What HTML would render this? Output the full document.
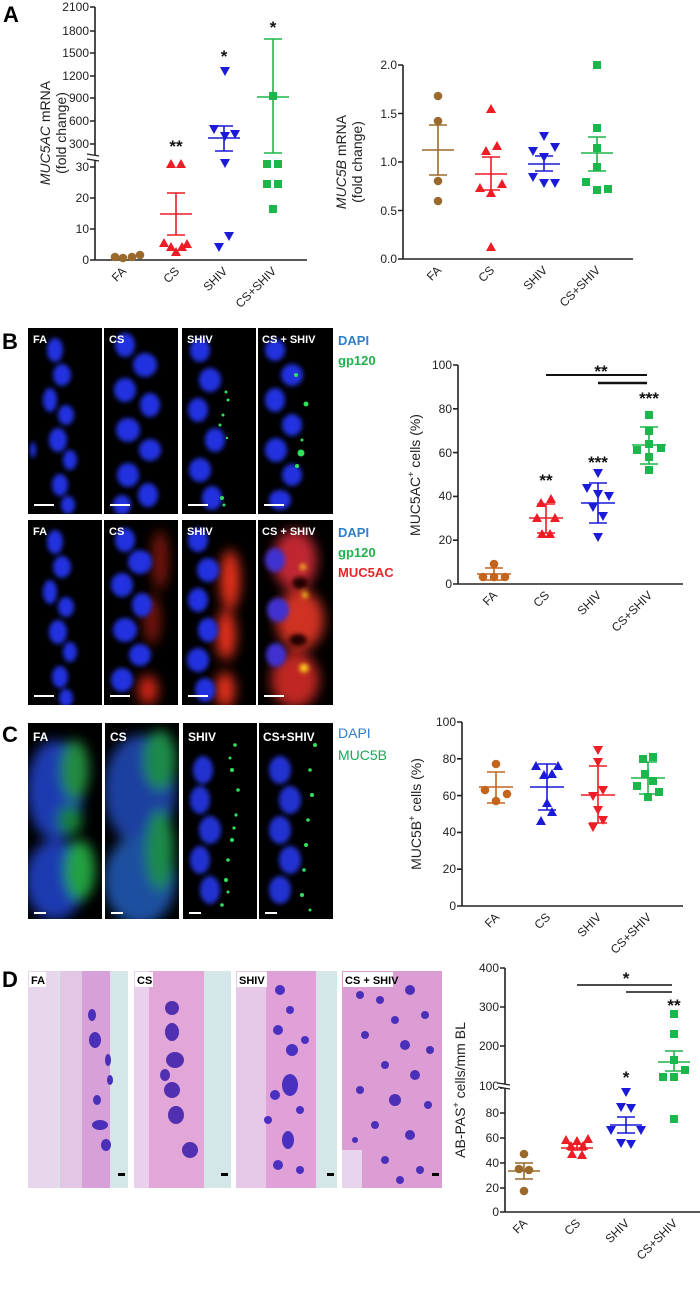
<!DOCTYPE html>
<html><head><meta charset="utf-8">
<style>
html,body{margin:0;padding:0;background:#fff}
svg{display:block}
text{font-family:"Liberation Sans",Arial,sans-serif}
</style></head>
<body>
<svg width="700" height="1289" viewBox="0 0 700 1289" xmlns="http://www.w3.org/2000/svg" xmlns:xlink="http://www.w3.org/1999/xlink">
<defs>
<filter id="b2" x="-50%" y="-50%" width="200%" height="200%"><feGaussianBlur stdDeviation="2.5"/></filter>
<filter id="b5" x="-50%" y="-50%" width="200%" height="200%"><feGaussianBlur stdDeviation="6"/></filter>
<symbol id="o" overflow="visible"><circle cx="0" cy="0" r="4.3"/></symbol>
<symbol id="u" overflow="visible"><polygon points="0,-5 -5,4 5,4"/></symbol>
<symbol id="d" overflow="visible"><polygon points="0,5 -5,-4 5,-4"/></symbol>
<symbol id="q" overflow="visible"><rect x="-4" y="-4" width="8" height="8"/></symbol>
<clipPath id="k1"><rect x="28" y="328" width="74" height="186"/></clipPath>
<clipPath id="k2"><rect x="104" y="328" width="74" height="186"/></clipPath>
<clipPath id="k3"><rect x="182" y="328" width="74" height="186"/></clipPath>
<clipPath id="k4"><rect x="258" y="328" width="75" height="186"/></clipPath>
<clipPath id="k5"><rect x="28" y="520" width="74" height="185"/></clipPath>
<clipPath id="k6"><rect x="104" y="520" width="74" height="185"/></clipPath>
<clipPath id="k7"><rect x="182" y="520" width="74" height="185"/></clipPath>
<clipPath id="k8"><rect x="258" y="520" width="75" height="185"/></clipPath>
<clipPath id="k9"><rect x="28" y="723" width="74" height="196"/></clipPath>
<clipPath id="k10"><rect x="105" y="723" width="74" height="196"/></clipPath>
<clipPath id="k11"><rect x="183" y="723" width="74" height="196"/></clipPath>
<clipPath id="k12"><rect x="259" y="723" width="74" height="196"/></clipPath>
<clipPath id="k13"><rect x="28" y="971" width="100" height="217"/></clipPath>
<clipPath id="k14"><rect x="134" y="971" width="97" height="217"/></clipPath>
<clipPath id="k15"><rect x="236" y="971" width="101" height="217"/></clipPath>
<clipPath id="k16"><rect x="342" y="971" width="100" height="217"/></clipPath>
</defs>

<!-- ===== B images row 1 ===== -->
<g>
<rect x="28" y="328" width="74" height="186" fill="#000"/>
<rect x="104" y="328" width="74" height="186" fill="#000"/>
<rect x="182" y="328" width="74" height="186" fill="#000"/>
<rect x="258" y="328" width="75" height="186" fill="#000"/>
<g clip-path="url(#k1)" filter="url(#b2)" fill="#2030e0">
<ellipse cx="55" cy="350" rx="8" ry="12"/><ellipse cx="62" cy="375" rx="9" ry="11"/><ellipse cx="50" cy="400" rx="7" ry="12"/><ellipse cx="66" cy="415" rx="8" ry="10"/><ellipse cx="58" cy="440" rx="9" ry="12"/><ellipse cx="70" cy="460" rx="7" ry="10"/><ellipse cx="60" cy="485" rx="8" ry="11"/><ellipse cx="68" cy="505" rx="7" ry="9"/><ellipse cx="33" cy="450" rx="3" ry="8"/>
</g>
<g clip-path="url(#k2)" filter="url(#b2)" fill="#2030e0">
<ellipse cx="125" cy="345" rx="10" ry="12"/><ellipse cx="145" cy="365" rx="12" ry="12"/><ellipse cx="125" cy="390" rx="11" ry="12"/><ellipse cx="150" cy="405" rx="10" ry="12"/><ellipse cx="128" cy="430" rx="12" ry="12"/><ellipse cx="150" cy="450" rx="11" ry="11"/><ellipse cx="128" cy="475" rx="11" ry="12"/><ellipse cx="148" cy="495" rx="10" ry="12"/><ellipse cx="122" cy="505" rx="9" ry="10"/>
</g>
<g clip-path="url(#k3)" filter="url(#b2)" fill="#2030e0">
<ellipse cx="200" cy="350" rx="10" ry="12"/><ellipse cx="210" cy="380" rx="11" ry="12"/><ellipse cx="198" cy="410" rx="10" ry="12"/><ellipse cx="215" cy="440" rx="10" ry="12"/><ellipse cx="200" cy="470" rx="11" ry="12"/><ellipse cx="212" cy="498" rx="10" ry="12"/>
</g>
<g clip-path="url(#k3)" fill="#2ee05a"><circle cx="226" cy="392" r="1.5"/><circle cx="228" cy="400" r="1.5"/><circle cx="223" cy="415" r="1.5"/><circle cx="220" cy="425" r="1.5"/><circle cx="227" cy="438" r="1.2"/><circle cx="222" cy="498" r="2"/><circle cx="224" cy="505" r="1.5"/></g>
<g clip-path="url(#k4)" filter="url(#b2)" fill="#2030e0">
<ellipse cx="275" cy="350" rx="10" ry="11"/><ellipse cx="292" cy="375" rx="11" ry="11"/><ellipse cx="275" cy="400" rx="10" ry="12"/><ellipse cx="292" cy="425" rx="10" ry="11"/><ellipse cx="276" cy="450" rx="11" ry="12"/><ellipse cx="292" cy="475" rx="10" ry="11"/><ellipse cx="280" cy="500" rx="11" ry="10"/>
</g>
<g clip-path="url(#k4)" fill="#2ee05a"><circle cx="296" cy="375" r="2"/><circle cx="306" cy="404" r="2.5"/><circle cx="302" cy="440" r="1.5"/><circle cx="301" cy="453" r="3.5"/><circle cx="297" cy="466" r="2"/></g>
<g fill="#fff"><rect x="34" y="504" width="20" height="2"/><rect x="110" y="504" width="20" height="2"/><rect x="188" y="504" width="20" height="2"/><rect x="264" y="504" width="20" height="2"/></g>
</g>

<!-- ===== B images row 2 ===== -->
<g>
<rect x="28" y="520" width="74" height="185" fill="#000"/>
<rect x="104" y="520" width="74" height="185" fill="#000"/>
<rect x="182" y="520" width="74" height="185" fill="#000"/>
<rect x="258" y="520" width="75" height="185" fill="#000"/>
<g clip-path="url(#k5)" filter="url(#b2)" fill="#2030e0">
<ellipse cx="55" cy="542" rx="8" ry="12"/><ellipse cx="62" cy="567" rx="9" ry="11"/><ellipse cx="50" cy="592" rx="7" ry="12"/><ellipse cx="66" cy="607" rx="8" ry="10"/><ellipse cx="58" cy="632" rx="9" ry="12"/><ellipse cx="70" cy="652" rx="7" ry="10"/><ellipse cx="60" cy="677" rx="8" ry="11"/><ellipse cx="66" cy="698" rx="7" ry="9"/>
</g>
<g clip-path="url(#k6)" filter="url(#b5)" fill="#d02818"><ellipse cx="160" cy="560" rx="8" ry="30" opacity="0.6"/><ellipse cx="152" cy="620" rx="8" ry="25" opacity="0.6"/><ellipse cx="148" cy="690" rx="10" ry="15"/></g>
<g clip-path="url(#k6)" filter="url(#b2)" fill="#2030e0">
<ellipse cx="125" cy="540" rx="10" ry="12"/><ellipse cx="140" cy="562" rx="12" ry="12"/><ellipse cx="122" cy="585" rx="11" ry="12"/><ellipse cx="142" cy="605" rx="10" ry="12"/><ellipse cx="125" cy="630" rx="12" ry="12"/><ellipse cx="140" cy="655" rx="11" ry="11"/><ellipse cx="122" cy="680" rx="11" ry="12"/>
</g>
<g clip-path="url(#k7)" filter="url(#b5)" fill="#e8301e"><ellipse cx="230" cy="580" rx="10" ry="30"/><ellipse cx="226" cy="635" rx="10" ry="25"/><ellipse cx="225" cy="690" rx="10" ry="18"/></g>
<g clip-path="url(#k7)" filter="url(#b2)" fill="#2030e0">
<ellipse cx="198" cy="540" rx="10" ry="12"/><ellipse cx="208" cy="570" rx="11" ry="12"/><ellipse cx="198" cy="600" rx="10" ry="12"/><ellipse cx="208" cy="630" rx="10" ry="12"/><ellipse cx="198" cy="660" rx="11" ry="12"/><ellipse cx="205" cy="690" rx="10" ry="12"/>
</g>
<g clip-path="url(#k8)" filter="url(#b5)">
<ellipse cx="295" cy="560" rx="22" ry="30" fill="#c02830"/><ellipse cx="300" cy="620" rx="24" ry="30" fill="#d03020"/><ellipse cx="295" cy="680" rx="24" ry="28" fill="#c02820"/>
</g>
<g clip-path="url(#k8)" filter="url(#b2)">
<ellipse cx="275" cy="560" rx="10" ry="12" fill="#4030d0"/><ellipse cx="278" cy="610" rx="11" ry="12" fill="#4030d0"/><ellipse cx="276" cy="655" rx="10" ry="12" fill="#4030d0"/><ellipse cx="300" cy="583" rx="8" ry="6" fill="#200"/><ellipse cx="298" cy="640" rx="9" ry="6" fill="#200"/>
<circle cx="303" cy="567" r="3" fill="#ffd21a"/><circle cx="305" cy="595" r="3" fill="#ffd21a"/><circle cx="304" cy="668" r="4.5" fill="#ffd21a"/>
</g>
<g fill="#fff"><rect x="34" y="695" width="20" height="2"/><rect x="110" y="695" width="20" height="2"/><rect x="188" y="695" width="20" height="2"/><rect x="264" y="695" width="20" height="2"/></g>
</g>

<!-- ===== C images ===== -->
<g>
<rect x="28" y="723" width="74" height="196" fill="#000"/>
<rect x="105" y="723" width="74" height="196" fill="#000"/>
<rect x="183" y="723" width="74" height="196" fill="#000"/>
<rect x="259" y="723" width="74" height="196" fill="#000"/>
<g clip-path="url(#k9)" filter="url(#b5)">
<ellipse cx="55" cy="790" rx="28" ry="50" fill="#1c3ab0"/><ellipse cx="55" cy="880" rx="30" ry="40" fill="#1c3ab0"/><ellipse cx="75" cy="770" rx="14" ry="30" fill="#208a40"/><ellipse cx="80" cy="870" rx="15" ry="30" fill="#20a040"/><ellipse cx="70" cy="820" rx="12" ry="15" fill="#188038"/>
</g>
<g clip-path="url(#k10)" filter="url(#b5)">
<ellipse cx="140" cy="790" rx="36" ry="55" fill="#1c40a0"/><ellipse cx="140" cy="880" rx="36" ry="45" fill="#1c50a0"/><ellipse cx="160" cy="760" rx="16" ry="30" fill="#1f8a48"/><ellipse cx="160" cy="850" rx="14" ry="40" fill="#1f8a48"/>
</g>
<g clip-path="url(#k11)" filter="url(#b2)" fill="#2030d0">
<ellipse cx="203" cy="770" rx="10" ry="14"/><ellipse cx="200" cy="800" rx="10" ry="14"/><ellipse cx="210" cy="830" rx="11" ry="14"/><ellipse cx="200" cy="860" rx="10" ry="14"/><ellipse cx="210" cy="890" rx="10" ry="14"/>
</g>
<g clip-path="url(#k11)" fill="#30e060"><circle cx="235" cy="745" r="1.8"/><circle cx="232" cy="770" r="2"/><circle cx="238" cy="790" r="1.8"/><circle cx="236" cy="815" r="1.6"/><circle cx="232" cy="840" r="2"/><circle cx="228" cy="860" r="1.8"/><circle cx="226" cy="880" r="2"/><circle cx="222" cy="905" r="1.8"/><circle cx="230" cy="758" r="1.5"/><circle cx="234" cy="828" r="1.6"/><circle cx="228" cy="892" r="1.5"/></g>
<g clip-path="url(#k12)" filter="url(#b2)" fill="#2030d0">
<ellipse cx="280" cy="770" rx="11" ry="14"/><ellipse cx="290" cy="800" rx="11" ry="14"/><ellipse cx="280" cy="830" rx="11" ry="14"/><ellipse cx="290" cy="860" rx="11" ry="14"/><ellipse cx="280" cy="890" rx="11" ry="14"/>
</g>
<g clip-path="url(#k12)" fill="#30e060"><circle cx="315" cy="745" r="2"/><circle cx="310" cy="770" r="1.8"/><circle cx="312" cy="795" r="2"/><circle cx="308" cy="820" r="1.8"/><circle cx="306" cy="845" r="2"/><circle cx="304" cy="870" r="1.8"/><circle cx="302" cy="895" r="2"/><circle cx="310" cy="910" r="1.5"/></g>
<g fill="#fff"><rect x="34" y="912" width="12" height="2"/><rect x="111" y="912" width="12" height="2"/><rect x="189" y="912" width="12" height="2"/><rect x="265" y="912" width="12" height="2"/></g>
</g>

<!-- ===== D images ===== -->
<g>
<rect x="28" y="971" width="100" height="217" fill="#d4e6e8"/>
<rect x="134" y="971" width="97" height="217" fill="#d4e6e8"/>
<rect x="236" y="971" width="101" height="217" fill="#d4e6e8"/>
<rect x="342" y="971" width="100" height="217" fill="#d4e6e8"/>
<g clip-path="url(#k13)">
<rect x="28" y="971" width="30" height="217" fill="#e8d6ec"/><rect x="80" y="971" width="30" height="217" fill="#d8a0d8"/><rect x="60" y="971" width="22" height="217" fill="#e3c6e6"/>
<g fill="#4a2fb8"><ellipse cx="92" cy="1015" rx="4" ry="6"/><ellipse cx="95" cy="1040" rx="6" ry="8"/><ellipse cx="108" cy="1060" rx="3" ry="6"/><ellipse cx="97" cy="1100" rx="4" ry="5"/><ellipse cx="100" cy="1125" rx="8" ry="5"/><ellipse cx="106" cy="1145" rx="5" ry="6"/><ellipse cx="110" cy="1080" rx="3" ry="5"/></g>
</g>
<g clip-path="url(#k14)">
<rect x="134" y="971" width="70" height="217" fill="#e2a6d8"/><rect x="134" y="971" width="15" height="217" fill="#ead0ec"/>
<g fill="#5030b0"><ellipse cx="172" cy="1008" rx="7" ry="7"/><ellipse cx="172" cy="1032" rx="7" ry="9"/><ellipse cx="175" cy="1060" rx="9" ry="8"/><ellipse cx="172" cy="1090" rx="8" ry="8"/><ellipse cx="176" cy="1115" rx="8" ry="9"/><ellipse cx="190" cy="1150" rx="8" ry="8"/><ellipse cx="165" cy="1075" rx="5" ry="6"/></g>
</g>
<g clip-path="url(#k15)">
<rect x="236" y="971" width="80" height="217" fill="#e0a0d8"/><rect x="236" y="971" width="30" height="217" fill="#e8c8e8"/>
<g fill="#4a30c0"><circle cx="280" cy="990" r="5"/><circle cx="290" cy="1010" r="4"/><circle cx="278" cy="1030" r="5"/><circle cx="292" cy="1050" r="6"/><ellipse cx="290" cy="1085" rx="8" ry="11"/><circle cx="275" cy="1095" r="5"/><circle cx="300" cy="1110" r="4"/><ellipse cx="288" cy="1140" rx="6" ry="9"/><circle cx="278" cy="1165" r="5"/><circle cx="300" cy="1170" r="4"/><circle cx="305" cy="1040" r="4"/><circle cx="268" cy="1120" r="4"/></g>
</g>
<g clip-path="url(#k16)">
<rect x="342" y="971" width="100" height="217" fill="#dc9cd4"/><rect x="342" y="1150" width="20" height="38" fill="#e8d4ec"/>
<g fill="#4a30b8"><circle cx="360" cy="995" r="4"/><circle cx="380" cy="1000" r="4"/><circle cx="410" cy="990" r="5"/><circle cx="395" cy="1020" r="4"/><circle cx="425" cy="1015" r="4"/><circle cx="365" cy="1035" r="4"/><circle cx="405" cy="1045" r="5"/><circle cx="430" cy="1050" r="4"/><circle cx="385" cy="1065" r="4"/><circle cx="415" cy="1075" r="5"/><circle cx="360" cy="1090" r="4"/><circle cx="395" cy="1100" r="6"/><circle cx="428" cy="1105" r="4"/><circle cx="375" cy="1125" r="4"/><circle cx="410" cy="1135" r="5"/><circle cx="385" cy="1160" r="4"/><circle cx="420" cy="1170" r="4"/><circle cx="400" cy="1180" r="4"/><circle cx="355" cy="1140" r="3"/></g>
</g>
<g fill="#000"><rect x="118" y="1173" width="7" height="3"/><rect x="221" y="1173" width="7" height="3"/><rect x="327" y="1173" width="7" height="3"/><rect x="432" y="1173" width="7" height="3"/></g>
</g>

<g font-weight="bold" font-size="22" fill="#000">
<text x="3" y="22">A</text><text x="2" y="349">B</text><text x="2" y="742">C</text><text x="2" y="987">D</text>
</g>
<g font-size="13" font-weight="bold">
<text x="338" y="345" fill="#2f7fd0">DAPI</text><text x="338" y="365" fill="#22b04c">gp120</text>
<text x="338" y="537" fill="#2f7fd0">DAPI</text><text x="338" y="557" fill="#22b04c">gp120</text><text x="338" y="577" fill="#e8242a">MUC5AC</text>
<text x="338" y="738" fill="#2f7fd0" font-size="14" font-weight="normal">DAPI</text><text x="338" y="760" fill="#1ca85a" font-size="14" font-weight="normal">MUC5B</text>
</g>
<g font-size="11" font-weight="bold" fill="#fff">
<text x="33" y="343">FA</text><text x="109" y="343">CS</text><text x="187" y="343">SHIV</text><text x="262" y="343">CS + SHIV</text>
<text x="33" y="535">FA</text><text x="109" y="535">CS</text><text x="187" y="535">SHIV</text><text x="262" y="535">CS + SHIV</text>
<text x="33" y="741" font-size="12">FA</text><text x="110" y="741" font-size="12">CS</text><text x="188" y="741" font-size="12">SHIV</text><text x="263" y="741" font-size="12">CS+SHIV</text>
</g>
<g font-size="11" font-weight="bold" fill="#000">
<rect x="29" y="972" width="17" height="15" fill="#fff"/><text x="31" y="984">FA</text>
<rect x="135" y="972" width="18" height="15" fill="#fff"/><text x="137" y="984">CS</text>
<rect x="237" y="972" width="30" height="15" fill="#fff"/><text x="239" y="984">SHIV</text>
<rect x="343" y="972" width="50" height="15" fill="#fff"/><text x="345" y="984">CS + SHIV</text>
</g>
<g font-size="14" fill="#222" text-anchor="middle">
<text transform="translate(50,133) rotate(-90)"><tspan font-style="italic">MUC5AC</tspan> mRNA</text>
<text transform="translate(66,133) rotate(-90)">(fold change)</text>
<text transform="translate(346,162) rotate(-90)"><tspan font-style="italic">MUC5B</tspan> mRNA</text>
<text transform="translate(362,162) rotate(-90)">(fold change)</text>
<text transform="translate(420,475) rotate(-90)">MUC5AC<tspan font-size="9" dy="-6">+</tspan><tspan dy="6"> cells (%)</tspan></text>
<text transform="translate(421,814) rotate(-90)">MUC5B<tspan font-size="9" dy="-6">+</tspan><tspan dy="6"> cells (%)</tspan></text>
<text transform="translate(465,1090) rotate(-90)">AB-PAS<tspan font-size="9" dy="-6">+</tspan><tspan dy="6"> cells/mm BL</tspan></text>
</g>
<g font-size="12" fill="#222" text-anchor="end">
<text x="89" y="11">2100</text><text x="89" y="35">1800</text><text x="89" y="57">1500</text><text x="89" y="80">1200</text><text x="89" y="102">900</text><text x="89" y="125">600</text><text x="89" y="148">300</text><text x="89" y="171">30</text><text x="89" y="202">20</text><text x="89" y="233">10</text><text x="89" y="264">0</text>
<text x="397" y="69">2.0</text><text x="397" y="118">1.5</text><text x="397" y="166">1.0</text><text x="397" y="215">0.5</text><text x="397" y="263">0.0</text>
<text x="452" y="369">100</text><text x="452" y="413">80</text><text x="452" y="457">60</text><text x="452" y="500">40</text><text x="452" y="544">20</text><text x="452" y="588">0</text>
<text x="456" y="726">100</text><text x="456" y="763">80</text><text x="456" y="800">60</text><text x="456" y="836">40</text><text x="456" y="873">20</text><text x="456" y="910">0</text>
<text x="499" y="972">400</text><text x="499" y="1011">300</text><text x="499" y="1050">200</text><text x="499" y="1090">100</text><text x="499" y="1117">80</text><text x="499" y="1142">60</text><text x="499" y="1167">40</text><text x="499" y="1192">20</text><text x="499" y="1216">0</text>
</g>
<g font-size="12" fill="#222" text-anchor="end">
<text transform="translate(127,272) rotate(-45)">FA</text><text transform="translate(180,272) rotate(-45)">CS</text><text transform="translate(228,272) rotate(-45)">SHIV</text><text transform="translate(277,272) rotate(-45)">CS+SHIV</text>
<text transform="translate(442,271) rotate(-45)">FA</text><text transform="translate(495,271) rotate(-45)">CS</text><text transform="translate(548,271) rotate(-45)">SHIV</text><text transform="translate(601,271) rotate(-45)">CS+SHIV</text>
<text transform="translate(498,596) rotate(-45)">FA</text><text transform="translate(550,596) rotate(-45)">CS</text><text transform="translate(602,596) rotate(-45)">SHIV</text><text transform="translate(653,596) rotate(-45)">CS+SHIV</text>
<text transform="translate(500,918) rotate(-45)">FA</text><text transform="translate(551,918) rotate(-45)">CS</text><text transform="translate(602,918) rotate(-45)">SHIV</text><text transform="translate(652,918) rotate(-45)">CS+SHIV</text>
<text transform="translate(528,1224) rotate(-45)">FA</text><text transform="translate(581,1224) rotate(-45)">CS</text><text transform="translate(630,1224) rotate(-45)">SHIV</text><text transform="translate(678,1224) rotate(-45)">CS+SHIV</text>
</g>
<g font-size="17" font-weight="bold" fill="#111" text-anchor="middle">
<text x="176" y="152">**</text><text x="224" y="62">*</text><text x="273" y="33">*</text>
<text x="601" y="377">**</text><text x="546" y="486">**</text><text x="598" y="468">***</text><text x="649" y="404">***</text>
<text x="626" y="984">*</text><text x="626" y="1083">*</text><text x="674" y="1011">**</text>
</g>

<!-- ===== axes ===== -->
<g stroke="#222" stroke-width="1.6" fill="none">
<path d="M95,7V260H307 M90,7H95 M90,31H95 M90,53H95 M90,76H95 M90,98H95 M90,121H95 M90,144H95 M90,167H95 M90,198H95 M90,229H95 M90,260H95"/>
<path d="M403,65V259H633 M398,65H403 M398,113.5H403 M398,162H403 M398,210.5H403 M398,259H403"/>
<path d="M458,365V584H683 M453,365H458 M453,408.8H458 M453,452.6H458 M453,496.4H458 M453,540.2H458 M453,584H458"/>
<path d="M462,722V906H683 M457,722H462 M457,758.8H462 M457,795.6H462 M457,832.4H462 M457,869.2H462 M457,906H462"/>
<path d="M505,968V1212H700 M500,968H505 M500,1007H505 M500,1046H505 M500,1084H505 M500,1088H505 M500,1113H505 M500,1138H505 M500,1163H505 M500,1188H505 M500,1212H505"/>
</g>
<rect x="86" y="155" width="14" height="5" fill="#fff"/>
<rect x="497" y="1084" width="14" height="4" fill="#fff"/>
<g stroke="#222" stroke-width="1.2"><line x1="87" y1="154" x2="99" y2="156"/><line x1="87" y1="159" x2="99" y2="161"/><line x1="498" y1="1083" x2="510" y2="1085"/><line x1="498" y1="1087" x2="510" y2="1089"/></g>
<g stroke="#111" stroke-width="2"><line x1="546" y1="375" x2="647" y2="375"/><line x1="598" y1="383" x2="647" y2="383" stroke-width="2.4"/><line x1="577" y1="985" x2="672" y2="985" stroke-width="1.6"/><line x1="626" y1="992" x2="672" y2="992" stroke-width="1.6"/></g>

<!-- ===== A left data ===== -->
<g fill="#9a6a2c"><use xlink:href="#o" x="115" y="257"/><use xlink:href="#o" x="123" y="258"/><use xlink:href="#o" x="132" y="257"/><use xlink:href="#o" x="140" y="255"/></g>
<g fill="#ee1c24"><use xlink:href="#u" x="171" y="164"/><use xlink:href="#u" x="181" y="164"/><use xlink:href="#u" x="164" y="243"/><use xlink:href="#u" x="171" y="247"/><use xlink:href="#u" x="182" y="247"/><use xlink:href="#u" x="187" y="244"/><use xlink:href="#u" x="176" y="252"/></g>
<path d="M176,193V235 M160,214H192 M167,193H185 M167,235H185" stroke="#ee1c24" stroke-width="1.6" fill="none"/>
<g fill="#1a1ad8"><use xlink:href="#d" x="225" y="71"/><use xlink:href="#d" x="214" y="129"/><use xlink:href="#d" x="235" y="134"/><use xlink:href="#d" x="225" y="136"/><use xlink:href="#d" x="225" y="163"/><use xlink:href="#d" x="219" y="247"/><use xlink:href="#d" x="229" y="236"/></g>
<path d="M224,126V151 M208,138H240 M215,126H233 M215,151H233" stroke="#1a1ad8" stroke-width="1.6" fill="none"/>
<g fill="#1db64b"><use xlink:href="#q" x="273" y="96"/><use xlink:href="#q" x="267" y="164"/><use xlink:href="#q" x="278" y="164"/><use xlink:href="#q" x="267" y="184"/><use xlink:href="#q" x="278" y="184"/><use xlink:href="#q" x="273" y="209"/></g>
<path d="M273,39V153 M257,97H289 M264,39H282 M264,153H282" stroke="#1db64b" stroke-width="1.6" fill="none"/>

<!-- ===== A right data ===== -->
<g fill="#9a6a2c"><use xlink:href="#o" x="438" y="96"/><use xlink:href="#o" x="438" y="121"/><use xlink:href="#o" x="438" y="181"/><use xlink:href="#o" x="438" y="201"/></g>
<path d="M438,125V175 M422,150H454 M429,125H447 M429,175H447" stroke="#9a6a2c" stroke-width="1.6" fill="none"/>
<g fill="#ee1c24"><use xlink:href="#u" x="491" y="109"/><use xlink:href="#u" x="497" y="146"/><use xlink:href="#u" x="486" y="151"/><use xlink:href="#u" x="502" y="184"/><use xlink:href="#u" x="480" y="188"/><use xlink:href="#u" x="491" y="193"/><use xlink:href="#u" x="491" y="247"/></g>
<path d="M491,157V190 M475,174H507 M482,157H500 M482,190H500" stroke="#ee1c24" stroke-width="1.6" fill="none"/>
<g fill="#1a1ad8"><use xlink:href="#d" x="544" y="136"/><use xlink:href="#d" x="555" y="147"/><use xlink:href="#d" x="533" y="151"/><use xlink:href="#d" x="544" y="157"/><use xlink:href="#d" x="533" y="177"/><use xlink:href="#d" x="544" y="183"/><use xlink:href="#d" x="555" y="183"/></g>
<path d="M544,156V171 M528,164H560 M535,156H553 M535,171H553" stroke="#1a1ad8" stroke-width="1.6" fill="none"/>
<g fill="#1db64b"><use xlink:href="#q" x="597" y="65"/><use xlink:href="#q" x="597" y="128"/><use xlink:href="#q" x="597" y="148"/><use xlink:href="#q" x="597" y="167"/><use xlink:href="#q" x="586" y="182"/><use xlink:href="#q" x="597" y="190"/><use xlink:href="#q" x="608" y="189"/></g>
<path d="M597,137V171 M581,153H613 M588,137H606 M588,171H606" stroke="#1db64b" stroke-width="1.6" fill="none"/>

<!-- ===== B chart data ===== -->
<g fill="#c4651d"><use xlink:href="#o" x="494" y="564"/><use xlink:href="#o" x="483" y="577"/><use xlink:href="#o" x="494" y="577"/><use xlink:href="#o" x="505" y="577"/></g>
<path d="M494,568V580 M477,574H511 M485,568H503 M485,580H503" stroke="#c4651d" stroke-width="1.6" fill="none"/>
<g fill="#ee1c24"><use xlink:href="#u" x="551" y="499"/><use xlink:href="#u" x="541" y="503"/><use xlink:href="#u" x="555" y="518"/><use xlink:href="#u" x="537" y="518"/><use xlink:href="#u" x="542" y="534"/><use xlink:href="#u" x="550" y="534"/></g>
<path d="M546,504V533 M529,518H563 M537,504H555 M537,533H555" stroke="#ee1c24" stroke-width="1.6" fill="none"/>
<g fill="#1a1ad8"><use xlink:href="#d" x="598" y="473"/><use xlink:href="#d" x="587" y="488"/><use xlink:href="#d" x="598" y="494"/><use xlink:href="#d" x="609" y="496"/><use xlink:href="#d" x="593" y="507"/><use xlink:href="#d" x="603" y="516"/><use xlink:href="#d" x="598" y="537"/></g>
<path d="M598,483V523 M581,503H615 M589,483H607 M589,523H607" stroke="#1a1ad8" stroke-width="1.6" fill="none"/>
<g fill="#1db64b"><use xlink:href="#q" x="649" y="415"/><use xlink:href="#q" x="649" y="431"/><use xlink:href="#q" x="649" y="444"/><use xlink:href="#q" x="637" y="450"/><use xlink:href="#q" x="661" y="448"/><use xlink:href="#q" x="649" y="457"/><use xlink:href="#q" x="649" y="470"/></g>
<path d="M649,427V464 M632,445H666 M640,427H658 M640,464H658" stroke="#1db64b" stroke-width="1.6" fill="none"/>

<!-- ===== C chart data ===== -->
<g fill="#c4651d"><use xlink:href="#o" x="496" y="764"/><use xlink:href="#o" x="485" y="790"/><use xlink:href="#o" x="507" y="794"/><use xlink:href="#o" x="496" y="801"/></g>
<path d="M496,772V803 M479,787H513 M487,772H505 M487,803H505" stroke="#c4651d" stroke-width="1.6" fill="none"/>
<g fill="#1a1ad8"><use xlink:href="#u" x="536" y="766"/><use xlink:href="#u" x="558" y="766"/><use xlink:href="#u" x="552" y="774"/><use xlink:href="#u" x="544" y="775"/><use xlink:href="#u" x="547" y="803"/><use xlink:href="#u" x="552" y="812"/><use xlink:href="#u" x="541" y="821"/></g>
<path d="M547,764V810 M530,787H564 M538,764H556 M538,810H556" stroke="#1a1ad8" stroke-width="1.6" fill="none"/>
<g fill="#ee1c24"><use xlink:href="#d" x="598" y="750"/><use xlink:href="#d" x="598" y="762"/><use xlink:href="#d" x="603" y="790"/><use xlink:href="#d" x="593" y="796"/><use xlink:href="#d" x="598" y="810"/><use xlink:href="#d" x="603" y="820"/><use xlink:href="#d" x="593" y="827"/></g>
<path d="M598,766V823 M581,795H615 M589,766H607 M589,823H607" stroke="#ee1c24" stroke-width="1.6" fill="none"/>
<g fill="#1db64b"><use xlink:href="#q" x="653" y="757"/><use xlink:href="#q" x="643" y="759"/><use xlink:href="#q" x="645" y="774"/><use xlink:href="#q" x="653" y="781"/><use xlink:href="#q" x="637" y="786"/><use xlink:href="#q" x="659" y="792"/><use xlink:href="#q" x="648" y="797"/></g>
<path d="M648,762V794 M631,778H665 M639,762H657 M639,794H657" stroke="#1db64b" stroke-width="1.6" fill="none"/>

<!-- ===== D chart data ===== -->
<g fill="#9a6a2c"><use xlink:href="#o" x="524" y="1154"/><use xlink:href="#o" x="519" y="1169"/><use xlink:href="#o" x="529" y="1170"/><use xlink:href="#o" x="524" y="1191"/></g>
<path d="M524,1163V1179 M508,1171H540 M515,1163H533 M515,1179H533" stroke="#9a6a2c" stroke-width="1.6" fill="none"/>
<g fill="#ee1c24"><use xlink:href="#u" x="566" y="1140"/><use xlink:href="#u" x="577" y="1141"/><use xlink:href="#u" x="588" y="1139"/><use xlink:href="#u" x="571" y="1146"/><use xlink:href="#u" x="583" y="1146"/><use xlink:href="#u" x="572" y="1154"/><use xlink:href="#u" x="582" y="1155"/></g>
<path d="M577,1144V1150 M561,1148H593 M568,1144H586 M568,1150H586" stroke="#ee1c24" stroke-width="1.6" fill="none"/>
<g fill="#1a1ad8"><use xlink:href="#d" x="626" y="1092"/><use xlink:href="#d" x="621" y="1107"/><use xlink:href="#d" x="631" y="1108"/><use xlink:href="#d" x="611" y="1130"/><use xlink:href="#d" x="641" y="1130"/><use xlink:href="#d" x="621" y="1143"/><use xlink:href="#d" x="631" y="1144"/></g>
<path d="M626,1117V1133 M610,1125H642 M617,1117H635 M617,1133H635" stroke="#1a1ad8" stroke-width="1.6" fill="none"/>
<g fill="#1db64b"><use xlink:href="#q" x="674" y="1014"/><use xlink:href="#q" x="674" y="1034"/><use xlink:href="#q" x="674" y="1060"/><use xlink:href="#q" x="685" y="1070"/><use xlink:href="#q" x="663" y="1077"/><use xlink:href="#q" x="674" y="1077"/><use xlink:href="#q" x="674" y="1119"/></g>
<path d="M674,1051V1071 M658,1062H690 M665,1051H683 M665,1071H683" stroke="#1db64b" stroke-width="1.6" fill="none"/>
</svg>
</body></html>
